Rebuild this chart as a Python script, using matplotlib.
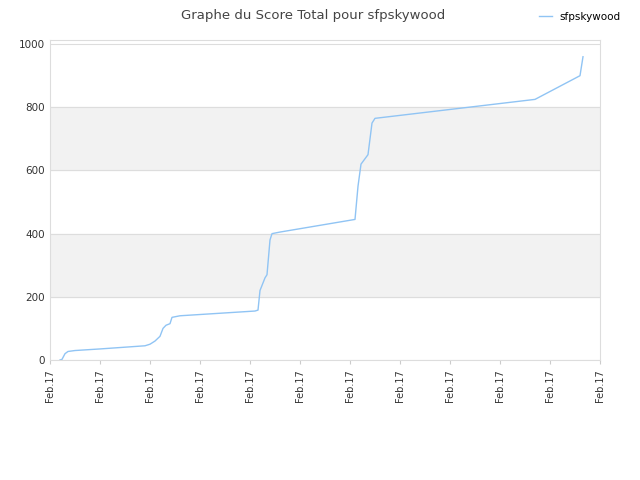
import matplotlib
matplotlib.use("Agg")
import matplotlib.pyplot as plt

# time positions in tick units (0..11) and score values
times = [0.2, 0.24, 0.3, 0.36, 0.5, 1.0, 1.9, 2.0, 2.1, 2.2, 2.26, 2.32, 2.4, 2.44, 2.6,
         4.1, 4.16, 4.2, 4.3, 4.34, 4.4, 4.44, 4.6, 6.1, 6.16, 6.22, 6.36, 6.44, 6.5,
         9.7, 10.6, 10.66]
scores = [0, 2, 20, 27, 30, 35, 45, 50, 60, 75, 100, 110, 115, 135, 140,
          155, 158, 220, 260, 270, 380, 400, 405, 445, 550, 620, 650, 750, 765,
          825, 900, 960]
tick_labels = ["Feb.17"] * 12
series_name = "sfpskywood"

fig = plt.figure(figsize=(6.4, 4.8), dpi=100)
ax = fig.add_axes([50/640, 120/480, 550/640, 320/480])
for lo, hi in [(200, 400), (600, 800)]:
    ax.axhspan(lo, hi, color="#f2f2f2", zorder=0)
ax.plot(times, scores, color="#90c4f4", lw=1, label=series_name, zorder=2)
ax.set_xlim(0, 11)
ax.set_ylim(0, 1013)
ax.set_xticks(range(12))
ax.set_xticklabels(tick_labels, rotation=90, fontsize=7, color="#333333")
ax.set_yticks([0, 200, 400, 600, 800, 1000])
ax.tick_params(axis="y", labelsize=7.5, colors="#333333", length=0)
ax.tick_params(axis="x", length=3, color="#cccccc")
ax.grid(axis="y", color="#dddddd", lw=0.8)
ax.set_axisbelow(True)
for s in ax.spines.values():
    s.set_color("#dddddd")
fig.text(0.49, 0.968, "Graphe du Score Total pour sfpskywood", ha="center", va="center",
         fontsize=9.5, color="#444444")
fig.legend(loc="upper right", bbox_to_anchor=(0.985, 0.995), frameon=False, fontsize=7.5,
           handlelength=1.2)
fig.savefig("out.png", dpi=100)
